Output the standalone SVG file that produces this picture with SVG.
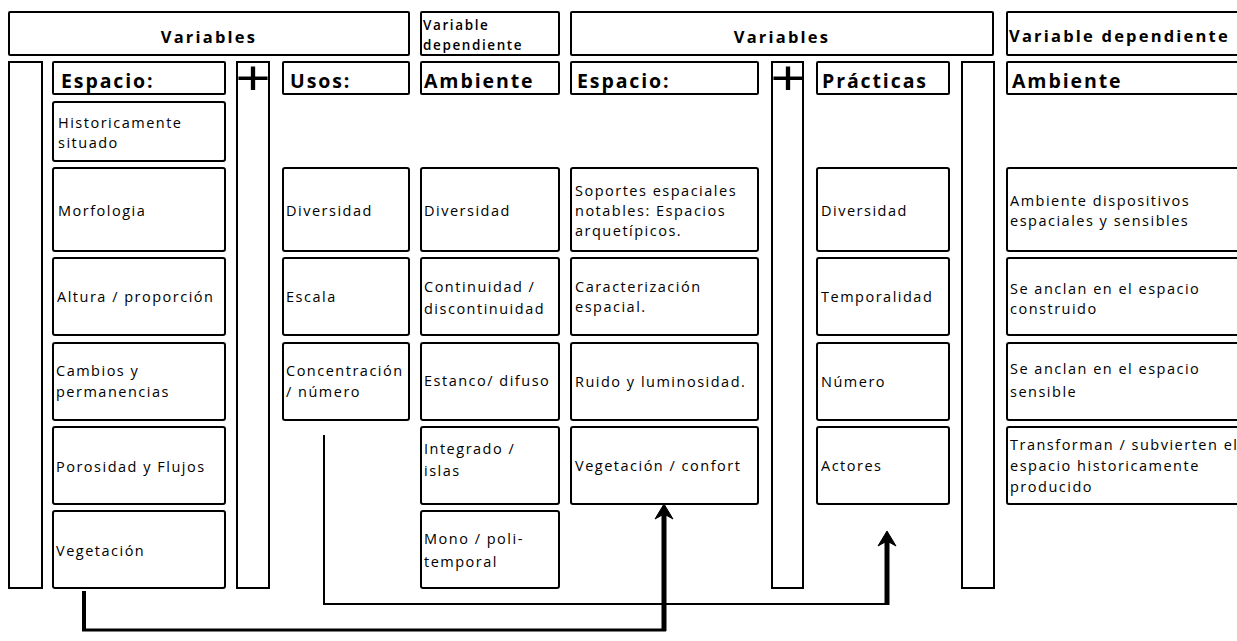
<svg xmlns="http://www.w3.org/2000/svg" width="1237" height="641" viewBox="0 0 1237 641">
<style>
  .b{fill:#fff;stroke:#000;stroke-width:2}
  .t{font-family:"Open Sans","Noto Sans",sans-serif;font-size:14.5px;letter-spacing:1.5px;fill:#000}
  .h{font-family:"Open Sans","Noto Sans",sans-serif;font-size:19.5px;font-weight:bold;letter-spacing:1.9px;fill:#000}
  .v{font-family:"Open Sans","Noto Sans",sans-serif;font-size:16.5px;font-weight:bold;letter-spacing:2.2px;fill:#000}
  .s{font-family:"Open Sans","Noto Sans",sans-serif;font-size:13.5px;font-weight:600;letter-spacing:1.6px;fill:#000}
  .p{font-family:"Liberation Sans",sans-serif;font-size:48px;fill:#000}
  .c{fill:none;stroke:#000}
</style>
<defs>
  <marker id="ah" markerUnits="userSpaceOnUse" viewBox="-26 -10 28 20" refX="-10" refY="0" markerWidth="28" markerHeight="20" orient="auto">
    <path d="M0,0 L-15,-9 L-10,0 L-15,9 Z" fill="#000" stroke="#000" stroke-width="1"/>
  </marker>
</defs>
<rect width="1237" height="641" fill="#fff"/>

<!-- Header row -->
<g id="hdr-variables-1"><rect class="b" x="9" y="12" width="400" height="43" rx="1"/><text class="v" x="209" y="43" text-anchor="middle">Variables</text></g>
<g id="hdr-dep-1"><rect class="b" x="421" y="12" width="138" height="43" rx="1"/><text class="s" x="423" y="30">Variable</text><text class="s" x="423" y="50">dependiente</text></g>
<g id="hdr-variables-2"><rect class="b" x="571" y="12" width="422" height="43" rx="1"/><text class="v" x="782" y="43" text-anchor="middle">Variables</text></g>
<g id="hdr-dep-2"><rect class="b" x="1007" y="12" width="245" height="43" rx="1"/><text class="v" x="1009" y="42">Variable dependiente</text></g>

<!-- Tall bars -->
<g id="bar-left"><rect class="b" x="9" y="62" width="33" height="526"/></g>
<g id="bar-plus-1"><rect class="b" x="237" y="62" width="32" height="526"/><text class="p" transform="translate(253,94) scale(1.25,1)" text-anchor="middle">+</text></g>
<g id="bar-plus-2"><rect class="b" x="772" y="62" width="31" height="526"/><text class="p" transform="translate(788,94) scale(1.25,1)" text-anchor="middle">+</text></g>
<g id="bar-right"><rect class="b" x="962" y="62" width="32" height="526"/></g>

<!-- Column headers -->
<g id="col-espacio-1"><rect class="b" x="53" y="62" width="172" height="32" rx="1"/><text class="h" x="61" y="88">Espacio:</text></g>
<g id="col-usos"><rect class="b" x="283" y="62" width="126" height="32" rx="1"/><text class="h" x="290" y="88">Usos:</text></g>
<g id="col-ambiente-1"><rect class="b" x="421" y="62" width="138" height="32" rx="1"/><text class="h" x="424" y="88">Ambiente</text></g>
<g id="col-espacio-2"><rect class="b" x="571" y="62" width="187" height="32" rx="1"/><text class="h" x="577" y="88">Espacio:</text></g>
<g id="col-practicas"><rect class="b" x="817" y="62" width="132" height="32" rx="1"/><text class="h" x="822" y="88">Prácticas</text></g>
<g id="col-ambiente-2"><rect class="b" x="1007" y="62" width="245" height="32" rx="1"/><text class="h" x="1012" y="88">Ambiente</text></g>

<!-- Espacio 1 column -->
<g id="e1-historicamente"><rect class="b" x="53" y="102" width="172" height="59" rx="2"/><text class="t" x="58" y="128">Historicamente</text><text class="t" x="58" y="148">situado</text></g>
<g id="e1-morfologia"><rect class="b" x="53" y="168" width="172" height="83" rx="2"/><text class="t" x="58" y="216">Morfologia</text></g>
<g id="e1-altura"><rect class="b" x="53" y="258" width="172" height="77" rx="2"/><text class="t" x="57" y="302">Altura / proporción</text></g>
<g id="e1-cambios"><rect class="b" x="53" y="343" width="172" height="77" rx="2"/><text class="t" x="56" y="376">Cambios y</text><text class="t" x="56" y="397">permanencias</text></g>
<g id="e1-porosidad"><rect class="b" x="53" y="427" width="172" height="77" rx="2"/><text class="t" x="56" y="472">Porosidad y Flujos</text></g>
<g id="e1-vegetacion"><rect class="b" x="53" y="511" width="172" height="77" rx="2"/><text class="t" x="56" y="556">Vegetación</text></g>

<!-- Usos column -->
<g id="u-diversidad"><rect class="b" x="283" y="168" width="126" height="83" rx="2"/><text class="t" x="286" y="216">Diversidad</text></g>
<g id="u-escala"><rect class="b" x="283" y="258" width="126" height="77" rx="2"/><text class="t" x="286" y="302">Escala</text></g>
<g id="u-concentracion"><rect class="b" x="283" y="343" width="126" height="77" rx="2"/><text class="t" x="286" y="376">Concentración</text><text class="t" x="286" y="397">/ número</text></g>

<!-- Ambiente 1 column -->
<g id="a1-diversidad"><rect class="b" x="421" y="168" width="138" height="83" rx="2"/><text class="t" x="424" y="216">Diversidad</text></g>
<g id="a1-continuidad"><rect class="b" x="421" y="258" width="138" height="77" rx="2"/><text class="t" x="424" y="292">Continuidad /</text><text class="t" x="424" y="314">discontinuidad</text></g>
<g id="a1-estanco"><rect class="b" x="421" y="343" width="138" height="77" rx="2"/><text class="t" x="424" y="386">Estanco/ difuso</text></g>
<g id="a1-integrado"><rect class="b" x="421" y="427" width="138" height="77" rx="2"/><text class="t" x="424" y="454">Integrado /</text><text class="t" x="424" y="476">islas</text></g>
<g id="a1-mono"><rect class="b" x="421" y="511" width="138" height="77" rx="2"/><text class="t" x="424" y="544">Mono / poli-</text><text class="t" x="424" y="567">temporal</text></g>

<!-- Espacio 2 column -->
<g id="e2-soportes"><rect class="b" x="571" y="168" width="187" height="83" rx="2"/><text class="t" x="575" y="196">Soportes espaciales</text><text class="t" x="575" y="216">notables: Espacios</text><text class="t" x="575" y="236">arquetípicos.</text></g>
<g id="e2-caracterizacion"><rect class="b" x="571" y="258" width="187" height="77" rx="2"/><text class="t" x="575" y="292">Caracterización</text><text class="t" x="575" y="312">espacial.</text></g>
<g id="e2-ruido"><rect class="b" x="571" y="343" width="187" height="77" rx="2"/><text class="t" x="575" y="387">Ruido y luminosidad.</text></g>
<g id="e2-vegetacion"><rect class="b" x="571" y="427" width="187" height="77" rx="2"/><text class="t" x="575" y="471">Vegetación / confort</text></g>

<!-- Prácticas column -->
<g id="p-diversidad"><rect class="b" x="817" y="168" width="132" height="83" rx="2"/><text class="t" x="821" y="216">Diversidad</text></g>
<g id="p-temporalidad"><rect class="b" x="817" y="258" width="132" height="77" rx="2"/><text class="t" x="821" y="302">Temporalidad</text></g>
<g id="p-numero"><rect class="b" x="817" y="343" width="132" height="77" rx="2"/><text class="t" x="821" y="387">Número</text></g>
<g id="p-actores"><rect class="b" x="817" y="427" width="132" height="77" rx="2"/><text class="t" x="821" y="471">Actores</text></g>

<!-- Ambiente 2 column -->
<g id="a2-dispositivos"><rect class="b" x="1007" y="168" width="245" height="83" rx="2"/><text class="t" x="1010" y="206">Ambiente dispositivos</text><text class="t" x="1010" y="226">espaciales y sensibles</text></g>
<g id="a2-construido"><rect class="b" x="1007" y="258" width="245" height="77" rx="2"/><text class="t" x="1010" y="294">Se anclan en el espacio</text><text class="t" x="1010" y="314">construido</text></g>
<g id="a2-sensible"><rect class="b" x="1007" y="343" width="245" height="77" rx="2"/><text class="t" x="1010" y="374">Se anclan en el espacio</text><text class="t" x="1010" y="397">sensible</text></g>
<g id="a2-transforman"><rect class="b" x="1007" y="427" width="245" height="77" rx="2"/><text class="t" x="1010" y="450">Transforman / subvierten el</text><text class="t" x="1010" y="471">espacio historicamente</text><text class="t" x="1010" y="492">producido</text></g>

<!-- Connectors -->
<g id="connectors">
  <polyline class="c" stroke-width="2" points="324,435 324,604 887,604"/>
  <line class="c" stroke-width="5" x1="887" y1="605" x2="887" y2="541" marker-end="url(#ah)"/>
  <polyline class="c" stroke-width="4" points="84,591 84,630"/>
  <polyline class="c" stroke-width="3" points="82,630 666,630"/>
  <line class="c" stroke-width="5" x1="664" y1="631" x2="664" y2="514" marker-end="url(#ah)"/>
</g>
</svg>
